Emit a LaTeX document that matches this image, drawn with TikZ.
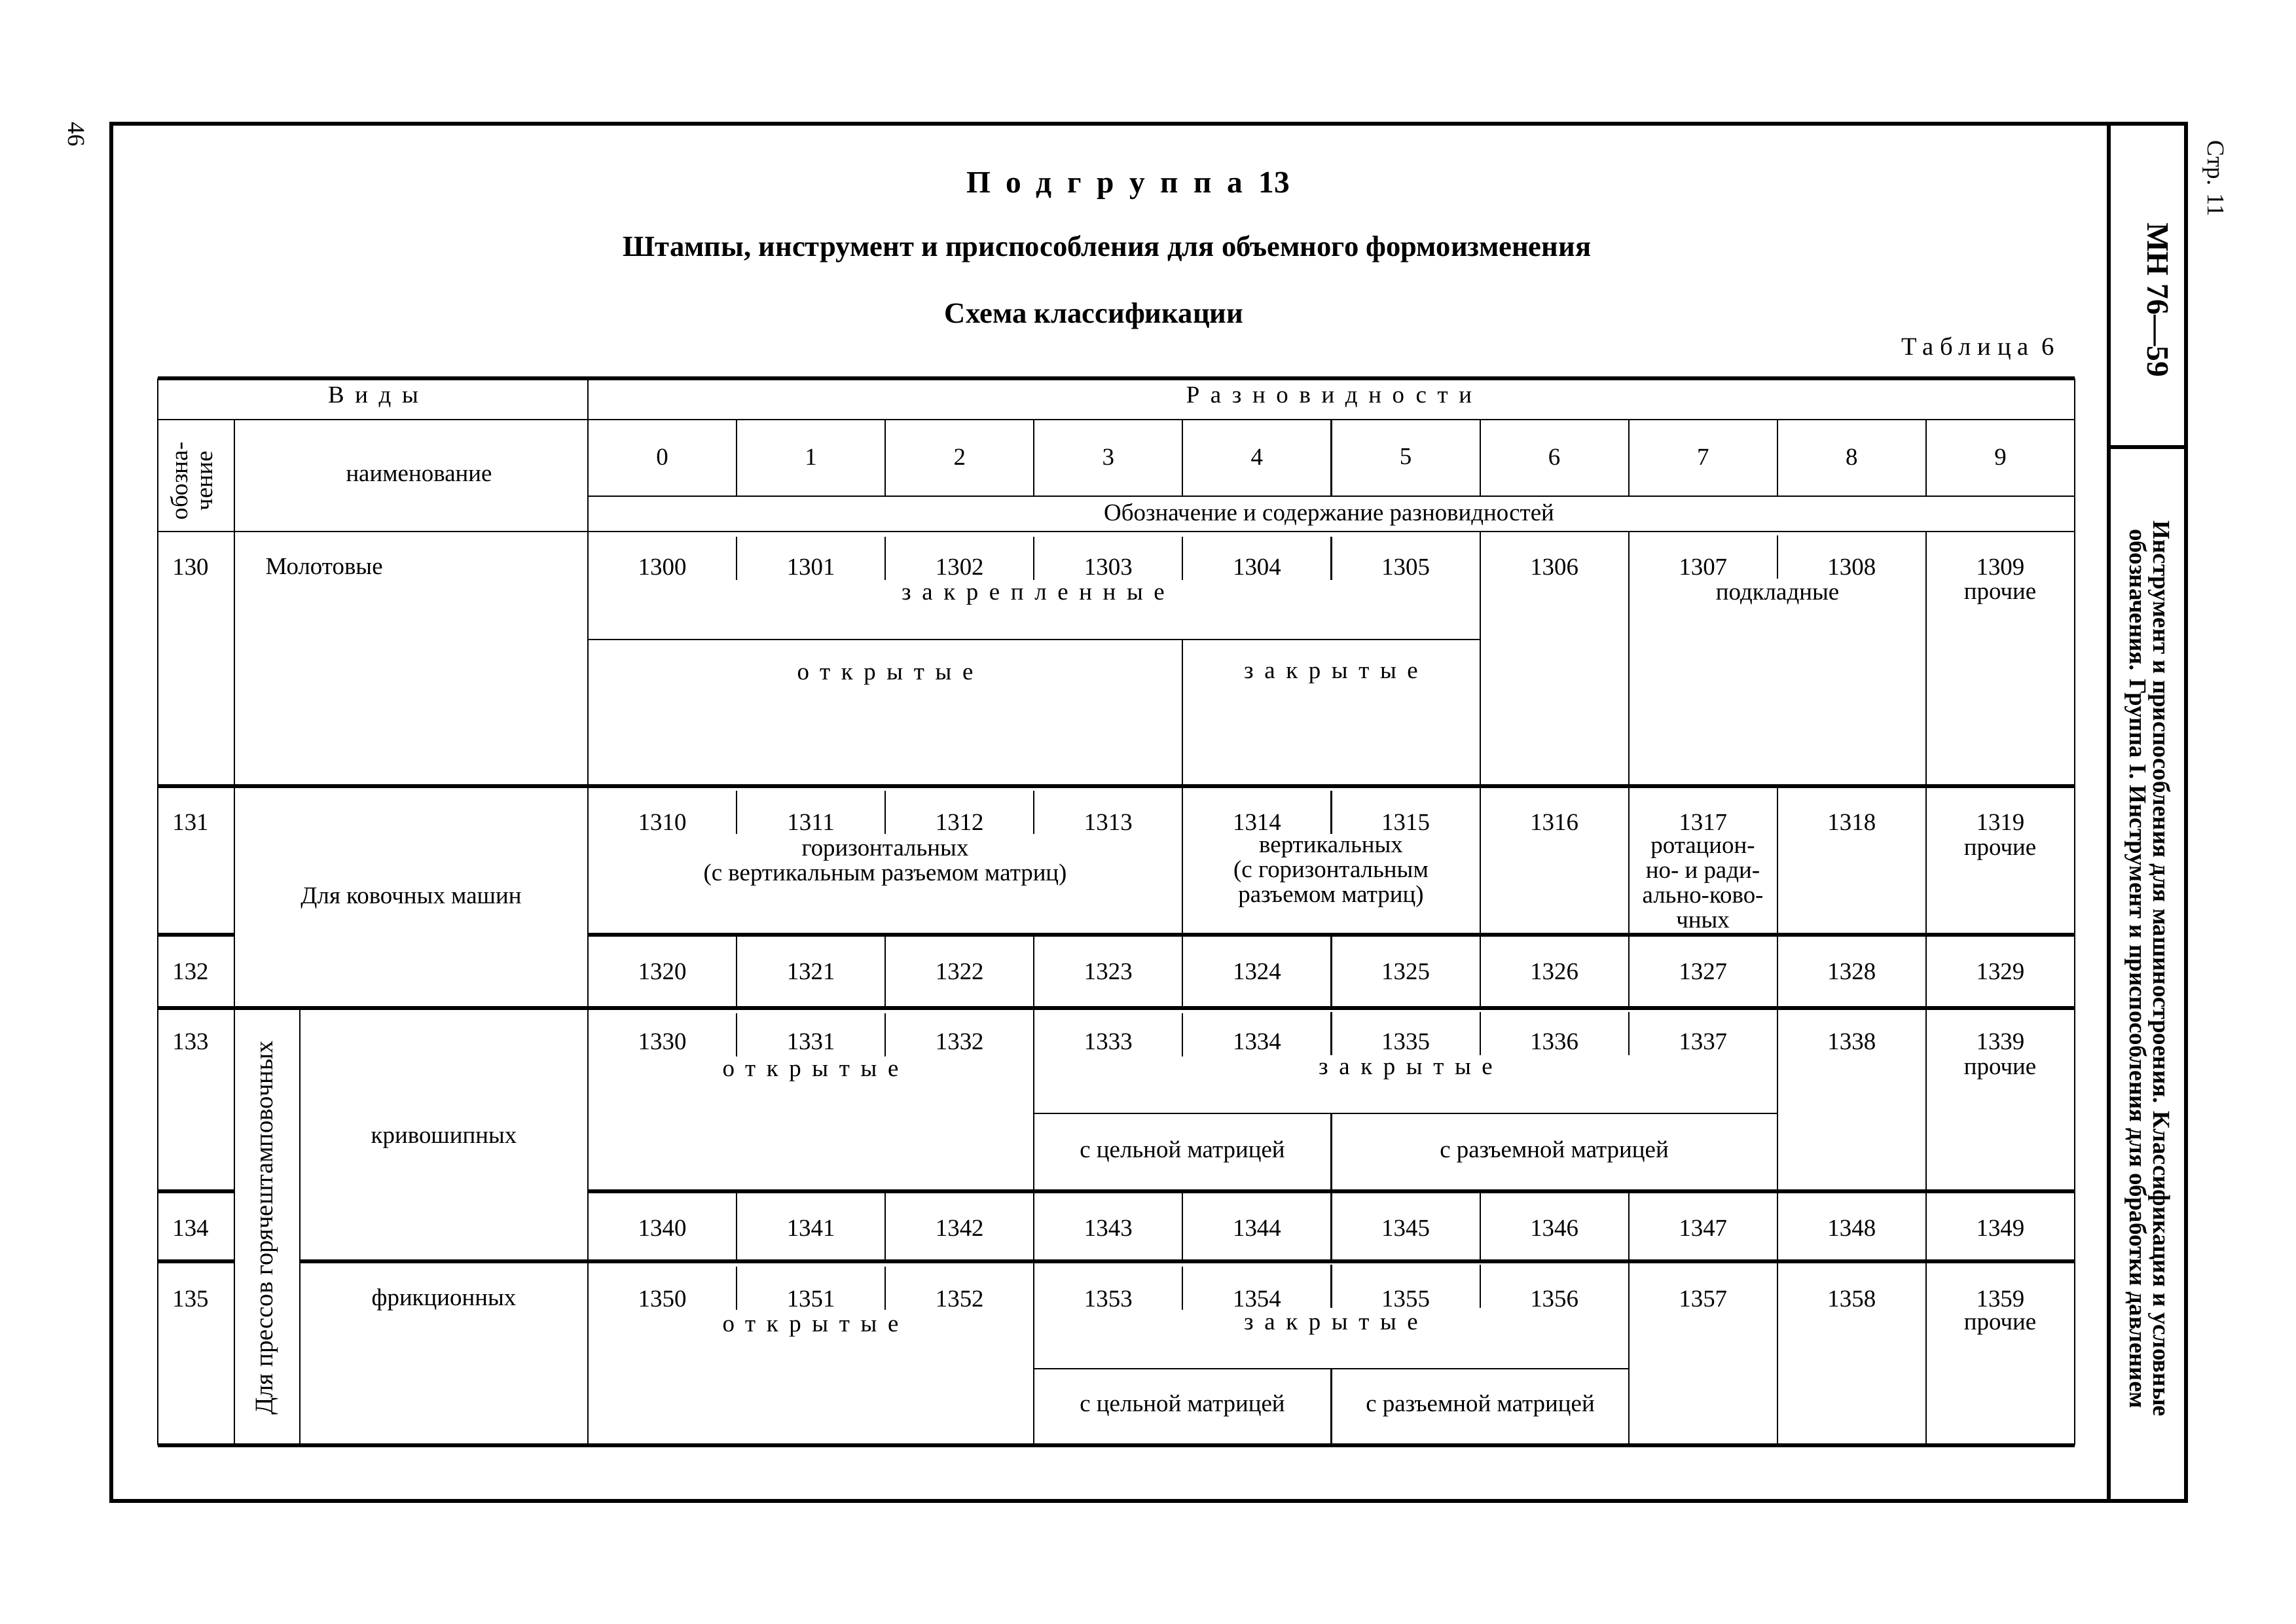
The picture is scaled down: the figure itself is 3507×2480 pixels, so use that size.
\documentclass[tikz,border=0pt]{standalone}
\usepackage{fontspec}
\setmainfont{Liberation Serif}
\usetikzlibrary{positioning}
\tikzset{
  x = 0.1mm,
  y = -0.1mm,
  thin rule/.style = {line width = 0.6pt},
  thick rule/.style = {line width = 1.6pt},
  frame rule/.style = {line width = 1.9pt},
  txt/.style = {inner sep = 0pt, align = center,
    font = \fontsize{10.5}{10.8}\selectfont},
  head/.style = {inner sep = 0pt, align = center,
    font = \bfseries\fontsize{12.7}{15}\selectfont},
}
\newcommand{\spaced}[2][45]{{\addfontfeature{LetterSpace=#1}#2}}

\begin{document}
\begin{tikzpicture}
  \useasboundingbox (0,0) rectangle (3507,2480);
  % frame
  \draw[frame rule] (170,189) rectangle (3339,2293);
  \draw[frame rule] (3221,189) -- (3221,2293);
  \draw[frame rule] (3221,683) -- (3339,683);
  \node[txt, rotate=-90] (pg) at (117,205) {46};
  \node[txt, rotate=-90] (str) at (3381,273) {Стр. 11};
  \node[head, rotate=-90, font=\bfseries\fontsize{13.5}{15}\selectfont] (mn) at (3296,458) {МН 76—59};
  \node[txt, rotate=-90, font=\bfseries\fontsize{10.5}{10.3}\selectfont] (side) at (3281,1480)
    {Инструмент и приспособления для машиностроения. Классификация и условные\\
     обозначения. Группа I. Инструмент и приспособления для обработки давлением};
  % titles
  \node[head, font=\bfseries\fontsize{13.5}{15}\selectfont] (podgr) at (1723,284) {\spaced[50]{Подгруппа}\enspace13};
  \node[head] (shtampy) at (1691,380) {Штампы, инструмент и приспособления для объемного формоизменения};
  \node[head] (schema) at (1671,483) {Схема классификации};
  \node[txt, anchor=east, font=\fontsize{11}{12}\selectfont] (tabl) at (3138,532) {\spaced[25]{Таблица}\enspace6};

  % table rules
  \draw[thick rule] (241,578) -- (3169,578);
  \draw[thin rule] (241,641) -- (3169,641);
  \draw[thin rule] (898,758) -- (3169,758);
  \draw[thin rule] (241,812) -- (3169,812);
  \draw[thick rule] (241,1201) -- (3169,1201);
  \draw[thick rule] (898,1428) -- (3169,1428) (241,1428) -- (358,1428);
  \draw[thick rule] (241,1540) -- (3169,1540);
  \draw[thick rule] (898,1820) -- (3169,1820) (241,1820) -- (358,1820);
  \draw[thick rule] (458,1927) -- (3169,1927) (241,1927) -- (358,1927);
  \draw[thick rule] (241,2208) -- (3169,2208);
  \draw[thin rule] (241,578) -- (241,2208);
  \draw[thin rule] (3169,578) -- (3169,2208);
  \draw[thin rule] (358,641) -- (358,2208);
  \draw[thin rule] (458,1540) -- (458,2208);
  \draw[thin rule] (898,578) -- (898,2208);
  % cell rules
  \draw[thin rule] (898,977) -- ({898+227.1*6},977);
  \draw[thin rule] ({898+227.1*3},1701) -- ({898+227.1*8},1701);
  \draw[thin rule] ({898+227.1*3},2091) -- ({898+227.1*7},2091);
  \foreach \i in {1,...,9} {
    \draw[thin rule] ({898+227.1*\i},641) -- ++(0,117);
    \draw[thin rule] ({898+227.1*\i},1428) -- ++(0,112);
    \draw[thin rule] ({898+227.1*\i},1820) -- ++(0,107);
  }
  % short ticks between numbers
  \foreach \i/\t in {1/820, 2/820, 3/820, 4/820, 5/820, 8/818,
                     1/1208, 2/1208, 3/1208, 5/1208,
                     1/1548, 2/1548, 4/1548, 5/1546, 6/1546, 7/1546,
                     1/1935, 2/1935, 4/1935, 5/1932, 6/1932}
    \draw[thin rule] ({898+227.1*\i},\t) -- ++(0,66);
  % longer column rules
  \foreach \i/\a/\b in {6/812/1201, 7/812/1201, 9/812/1201, 4/977/1201,
                        4/1201/1428, 6/1201/1428, 7/1201/1428, 8/1201/1428, 9/1201/1428,
                        3/1540/1820, 8/1540/1820, 9/1540/1820, 5/1701/1820,
                        3/1927/2208, 7/1927/2208, 8/1927/2208, 9/1927/2208, 5/2091/2208}
    \draw[thin rule] ({898+227.1*\i},\a) -- ({898+227.1*\i},\b);

  % header
  \node[txt] (vidy) at (570,607) {\spaced{Виды}};
  \node[txt] (raznov) at (2030,607) {\spaced{Разновидности}};
  \foreach \i in {0,...,9}
    \node[txt] (h\i) at ({898+227.1*(\i+0.5)},698) {\i};
  \node[txt] (naim) at (640,727) {наименование};
  \node[txt, rotate=90] (oboz) at (292,735) {обозна-\\чение};
  \node[txt] (obsod) at (2030,786) {Обозначение и содержание разновидностей};

  % codes
  \foreach \r/\y in {0/866, 1/1256, 2/1484, 3/1591, 4/1876, 5/1984} {
    \node[txt] (r13\r) at (291,\y) {13\r};
    \foreach \i in {0,...,9}
      \node[txt] (n13\r\i) at ({898+227.1*(\i+0.5)},\y) {13\r\i};
  }

  % row 130
  \node[txt, anchor=west] (molot) at (405,866) {Молотовые};
  \node[txt] (zakrepl) at (1578,912) {\spaced{закрепленные}};
  \node[txt] (otkr0) at (1352,1034) {\spaced{открытые}};
  \node[txt] (zakr0) at (2033,1032) {\spaced{закрытые}};
  \node[txt] (podkl) at (2715,911) {подкладные};
  \node[txt] (proch0) at (3055,911) {прочие};
  % rows 131, 132
  \node[txt] (kovoch) at (628,1372) {Для ковочных машин};
  \node[txt] (goriz) at (1352,1322) {горизонтальных\\(с вертикальным разъемом матриц)};
  \node[txt] (vertik) at (2033,1336) {вертикальных\\(с горизонтальным\\разъемом матриц)};
  \node[txt] (rotac) at (2601,1352) {ротацион-\\но- и ради-\\ально-ково-\\чных};
  \node[txt] (proch1) at (3055,1302) {прочие};
  % rows 133 -- 135
  \node[txt, rotate=90, font=\fontsize{11}{12}\selectfont] (press) at (408,1876) {Для прессов горячештамповочных};
  \node[txt] (kriv) at (678,1742) {кривошипных};
  \node[txt] (otkr3) at (1238,1640) {\spaced{открытые}};
  \node[txt] (zakr3) at (2147,1637) {\spaced{закрытые}};
  \node[txt] (celn3) at (1806,1760) {с цельной матрицей};
  \node[txt] (razem3) at (2374,1760) {с разъемной матрицей};
  \node[txt] (proch3) at (3055,1637) {прочие};
  \node[txt] (frik) at (678,1986) {фрикционных};
  \node[txt] (otkr5) at (1238,2030) {\spaced{открытые}};
  \node[txt] (zakr5) at (2033,2027) {\spaced{закрытые}};
  \node[txt] (celn5) at (1806,2148) {с цельной матрицей};
  \node[txt] (razem5) at (2261,2148) {с разъемной матрицей};
  \node[txt] (proch5) at (3055,2027) {прочие};
\end{tikzpicture}
\end{document}
